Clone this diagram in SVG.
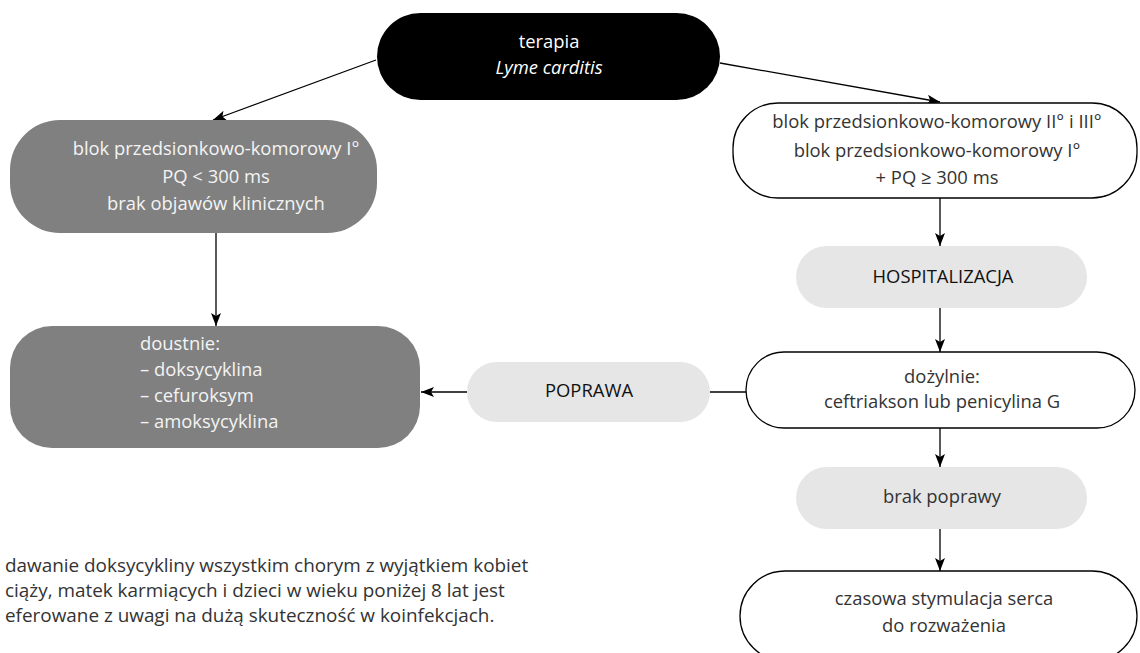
<svg xmlns="http://www.w3.org/2000/svg" width="1140" height="653" viewBox="0 0 1140 653">
<defs>
<style>
text{font-family:"Open Sans","Noto Sans","DejaVu Sans",sans-serif;font-size:18.4px}
.c{text-anchor:middle}
.w{fill:#ffffff}
.lw{fill:#f4f4f4}
.d{fill:#333333}
.k{fill:#111111}
.dark{fill:#808080}
.light{fill:#e6e6e6}
.out{fill:#ffffff;stroke:#000;stroke-width:1.3}
.ln{stroke:#000;stroke-width:1.3;fill:none}
.note{font-size:18.9px}
</style>
<marker id="ah" markerUnits="userSpaceOnUse" markerWidth="14" markerHeight="12" refX="13" refY="5" orient="auto">
<path d="M0,0 L13,5 L0,10 L3,5 z" fill="#000"/>
</marker>
</defs>
<g id="connectors">
<line class="ln" x1="376" y1="60" x2="213" y2="120" marker-end="url(#ah)"/>
<line class="ln" x1="720" y1="63" x2="940" y2="102" marker-end="url(#ah)"/>
<line class="ln" x1="216" y1="233" x2="216" y2="326" marker-end="url(#ah)"/>
<line class="ln" x1="940" y1="198" x2="940" y2="246" marker-end="url(#ah)"/>
<line class="ln" x1="940" y1="308" x2="940" y2="352" marker-end="url(#ah)"/>
<line class="ln" x1="746" y1="392" x2="710" y2="392"/>
<line class="ln" x1="467" y1="392" x2="421" y2="392" marker-end="url(#ah)"/>
<line class="ln" x1="940" y1="428" x2="940" y2="467" marker-end="url(#ah)"/>
<line class="ln" x1="940" y1="529" x2="940" y2="571" marker-end="url(#ah)"/>
</g>
<g id="n-terapia">
<rect x="377" y="13" width="343" height="87" rx="43.5" fill="#000"/>
<text class="c w" x="549" y="48">terapia</text>
<text class="c w" x="549" y="74" font-style="italic">Lyme carditis</text>
</g>
<g id="n-blok1">
<rect class="dark" x="10" y="120" width="367" height="113" rx="50"/>
<text class="c lw" x="216" y="155">blok przedsionkowo-komorowy I°</text>
<text class="c lw" x="216" y="183">PQ &lt; 300 ms</text>
<text class="c lw" x="216" y="210">brak objawów klinicznych</text>
</g>
<g id="n-doustnie">
<rect class="dark" x="10" y="326" width="410" height="122" rx="42"/>
<text class="lw" x="140" y="350">doustnie:</text>
<text class="lw" x="140" y="376">– doksycyklina</text>
<text class="lw" x="140" y="402">– cefuroksym</text>
<text class="lw" x="140" y="428">– amoksycyklina</text>
</g>
<g id="n-blok2">
<rect class="out" x="733" y="103" width="404" height="95" rx="45"/>
<text class="c d" x="937" y="128">blok przedsionkowo-komorowy II° i III°</text>
<text class="c d" x="937" y="157">blok przedsionkowo-komorowy I°</text>
<text class="c d" x="937" y="184">+ PQ ≥ 300 ms</text>
</g>
<g id="n-hosp">
<rect class="light" x="796" y="246" width="291" height="62" rx="31"/>
<text class="c k" x="943" y="283">HOSPITALIZACJA</text>
</g>
<g id="n-dozylnie">
<rect class="out" x="746" y="352" width="389" height="76" rx="38"/>
<text class="c d" x="942" y="383">dożylnie:</text>
<text class="c d" x="942" y="408">ceftriakson lub penicylina G</text>
</g>
<g id="n-poprawa">
<rect class="light" x="467" y="362" width="243" height="60" rx="30"/>
<text class="c k" x="589" y="397">POPRAWA</text>
</g>
<g id="n-brak">
<rect class="light" x="796" y="467" width="291" height="62" rx="31"/>
<text class="c d" x="942" y="503">brak poprawy</text>
</g>
<g id="n-stymulacja">
<rect class="out" x="740" y="571" width="397" height="90" rx="45"/>
<text class="c d" x="944" y="605">czasowa stymulacja serca</text>
<text class="c d" x="944" y="632">do rozważenia</text>
</g>
<g id="note">
<text class="d note" x="5" y="572">dawanie doksycykliny wszystkim chorym z wyjątkiem kobiet</text>
<text class="d note" x="5" y="597">ciąży, matek karmiących i dzieci w wieku poniżej 8 lat jest</text>
<text class="d note" x="5" y="622">eferowane z uwagi na dużą skuteczność w koinfekcjach.</text>
</g>
</svg>
